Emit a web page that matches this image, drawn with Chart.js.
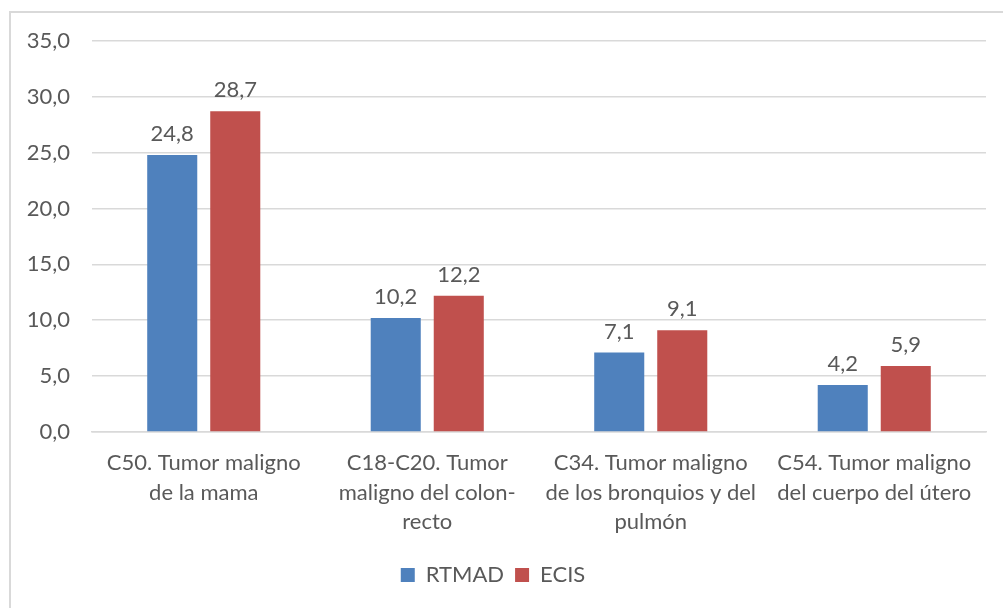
<!DOCTYPE html>
<html>
<head>
<meta charset="utf-8">
<script src="https://cdn.jsdelivr.net/npm/chart.js@4"></script>
<style>
  html, body { margin: 0; padding: 0; background: #fff; overflow: hidden; }
  #frame { position: absolute; left: 9px; top: 11px; width: 1010px; height: 620px; border: 2px solid #d9d9d9; }
  #wrap { position: absolute; left: 0; top: 0; width: 1003px; height: 608px; }
</style>
</head>
<body>
<div id="frame"></div>
<div id="wrap"><canvas id="chart"></canvas></div>
<script>
'use strict';

// categories (multi-line like the original)
var categories = [
  ['C50. Tumor maligno', 'de la mama'],
  ['C18-C20. Tumor', 'maligno del colon-', 'recto'],
  ['C34. Tumor maligno', 'de los bronquios y del', 'pulmón'],
  ['C54. Tumor maligno', 'del cuerpo del útero']
];
var rtmadValues = [24.8, 10.2, 7.1, 4.2];
var ecisValues = [28.7, 12.2, 9.1, 5.9];
var seriesNames = ['RTMAD', 'ECIS'];

var fontFamily = "Lato, 'Open Sans', sans-serif";
var fontSize = 22;
var textColor = '#595959';

function fmt(v) {
  return v.toFixed(1).replace('.', ',');
}

// value labels above the bars
var valueLabels = {
  id: 'valueLabels',
  afterDatasetsDraw: function(chart) {
    var ctx = chart.ctx;
    ctx.save();
    ctx.font = fontSize + 'px ' + fontFamily;
    ctx.fillStyle = textColor;
    ctx.textAlign = 'center';
    ctx.textBaseline = 'bottom';
    chart.data.datasets.forEach(function(ds, i) {
      chart.getDatasetMeta(i).data.forEach(function(bar, j) {
        ctx.fillText(fmt(ds.data[j]), bar.x, bar.y - 10);
      });
    });
    ctx.restore();
  }
};

new Chart(document.getElementById('chart'), {
  type: 'bar',
  data: {
    labels: categories,
    datasets: [{
      label: seriesNames[0],
      data: rtmadValues,
      backgroundColor: '#4f81bd'
    }, {
      label: seriesNames[1],
      data: ecisValues,
      backgroundColor: '#c0504d'
    }]
  },
  options: {
    responsive: true,
    maintainAspectRatio: false,
    animation: false,
    categoryPercentage: 0.564,
    barPercentage: 0.794,
    layout: {
      padding: { top: 41, right: 17, left: 0, bottom: 12 }
    },
    scales: {
      x: {
        grid: { display: false, drawTicks: false },
        border: { color: '#d9d9d9', width: 1.5 },
        ticks: {
          color: textColor,
          padding: 17,
          maxRotation: 0,
          autoSkip: false,
          font: { family: fontFamily, size: fontSize, lineHeight: 1.32 }
        }
      },
      y: {
        min: 0,
        max: 35,
        afterFit: function(scale) { scale.width = 92; },
        grid: { color: '#d9d9d9', lineWidth: 1.5, drawTicks: false },
        border: { display: false },
        ticks: {
          stepSize: 5,
          color: textColor,
          padding: 22,
          font: { family: fontFamily, size: fontSize },
          callback: function(v) { return fmt(v); }
        }
      }
    },
    plugins: {
      legend: {
        position: 'bottom',
        labels: {
          color: textColor,
          boxWidth: 14,
          boxHeight: 14,
          padding: 11,
          font: { family: fontFamily, size: fontSize }
        }
      },
      tooltip: { enabled: false }
    }
  },
  plugins: [valueLabels]
});
</script>
</body>
</html>
